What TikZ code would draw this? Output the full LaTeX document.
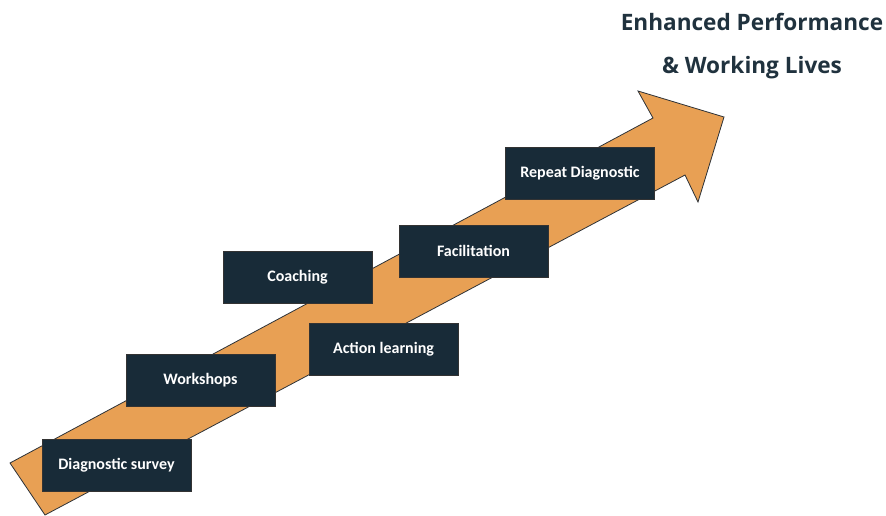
\documentclass[tikz,border=0pt]{standalone}
\usepackage{fontspec}
\setmainfont{Open Sans}
\newfontfamily\boxfont{Carlito}
\definecolor{arroworange}{RGB}{232,160,84}
\definecolor{arrowedge}{RGB}{45,50,55}
\definecolor{stepnavy}{RGB}{24,43,56}
\definecolor{titleslate}{RGB}{32,50,62}
\tikzset{
  stepbox/.style={draw=black!80, line width=0.6pt, fill=stepnavy,
    minimum width=149pt, minimum height=52pt, inner sep=0pt,
    text=white, font=\boxfont\bfseries\fontsize{16}{18}\selectfont},
  titletext/.style={text=titleslate, font=\bfseries\fontsize{22.6}{26}\selectfont, inner sep=0pt}
}
\begin{document}
\begin{tikzpicture}[x=1pt,y=-1pt]
\useasboundingbox (0,0) rectangle (886,516);
% rising arrow
\coordinate (tailtop) at (10,463);
\coordinate (tailbot) at (45,515);
\coordinate (jointop) at (653,118);
\coordinate (barbtop) at (638,91);
\coordinate (tip) at (724,117);
\coordinate (barbbot) at (698,202);
\coordinate (joinbot) at (685,175);
\draw[fill=arroworange, draw=arrowedge, line width=0.8pt, line join=miter]
  (tailtop) -- (jointop) -- (barbtop) -- (tip) -- (barbbot) -- (joinbot) -- (tailbot) -- cycle;
% steps along the arrow
\node[stepbox] (survey) at (116.5,465.5) {Diagnostic survey};
\node[stepbox] (workshops) at (200.5,380.5) {Workshops};
\node[stepbox] (coaching) at (297.5,277) {Coaching};
\node[stepbox] (action) at (383.5,349) {Action learning};
\node[stepbox] (facil) at (473.5,251) {Facilitation};
\node[stepbox] (repeat) at (580,173) {Repeat Diagnostic};
% outcome
\node[titletext] (title1) at (752,22) {Enhanced Performance};
\node[titletext] (title2) at (752,68) {\& Working Lives};
\end{tikzpicture}
\end{document}
